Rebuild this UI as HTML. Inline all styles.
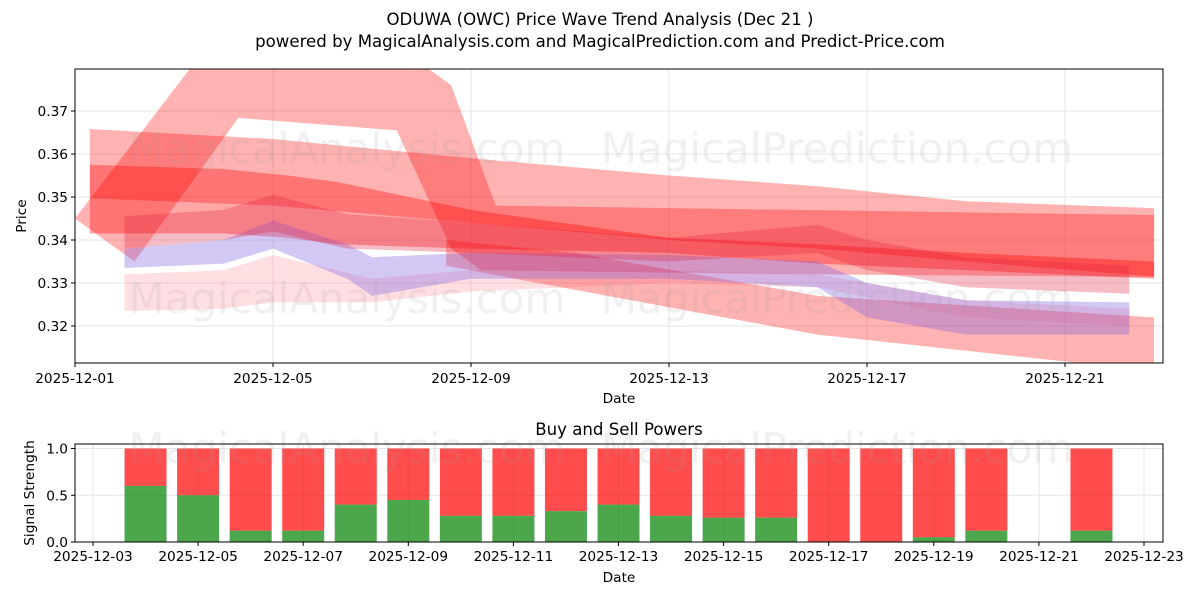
<!DOCTYPE html>
<html><head><meta charset="utf-8"><style>
body{margin:0;background:#fff;font-family:"Liberation Sans","DejaVu Sans",sans-serif;}
svg text{font-family:"DejaVu Sans","Liberation Sans",sans-serif;}
</style></head><body>
<svg id="c" width="1200" height="600" xmlns="http://www.w3.org/2000/svg">
<defs><clipPath id="cp"><rect x="75" y="69" width="1088" height="294"/></clipPath></defs>
<text x="600" y="25" font-size="16.6" text-anchor="middle">ODUWA (OWC) Price Wave Trend Analysis (Dec 21 )</text>
<text x="600" y="47" font-size="16.6" text-anchor="middle">powered by MagicalAnalysis.com and MagicalPrediction.com and Predict-Price.com</text>
<g id="topg"></g>
<g id="botg"></g>
</svg>
<script>
const NS='http://www.w3.org/2000/svg';
// price bands (day of December, upper, lower)
const bandADays=[1.0,3.4,8.0,8.6,9.5,22.8];
const bandAUpper=[0.345,0.381,0.381,0.376,0.348,0.3458];
const bandALowerDays=[1.0,2.2,4.3,7.5,8.6,9.2,16,22.8];
const bandALower=[0.345,0.335,0.3684,0.3655,0.338,0.333,0.332,0.3314];
const bandEDays=[8.5,11.1,16,22.8];
const bandEUpper=[0.340,0.337,0.327,0.322];
const bandELower=[0.334,0.3284,0.318,0.3095];
const bandBDays=[1.3,5,9,13,16,19,22.8];
const bandBUpper=[0.3658,0.3635,0.359,0.355,0.3525,0.349,0.3474];
const bandBLower=[0.3497,0.348,0.344,0.340,0.338,0.335,0.3315];
const bandCDays=[1.3,4,5.3,6.3,9,13,16,19,22.8];
const bandCUpper=[0.3575,0.3565,0.355,0.3535,0.347,0.3405,0.339,0.337,0.335];
const bandCLower=[0.3415,0.3415,0.3405,0.339,0.338,0.337,0.3345,0.333,0.331];
const bandDDays=[2,4,5,6.5,9,13,16,17,19,22.3];
const bandDUpper=[0.3455,0.347,0.3505,0.346,0.344,0.3405,0.3435,0.340,0.336,0.3340];
const bandDLower=[0.338,0.340,0.342,0.338,0.337,0.335,0.337,0.333,0.329,0.3275];
const bandPDays=[2,4,5,6.5,7,9,13,16,17,19,22.3];
const bandPUpper=[0.338,0.340,0.3445,0.339,0.336,0.337,0.3365,0.335,0.330,0.326,0.3255];
const bandPLower=[0.3335,0.3345,0.338,0.331,0.327,0.331,0.331,0.329,0.322,0.318,0.318];
const bandLDays=[2,4,5,7,9,13,16,19,22.3];
const bandLUpper=[0.332,0.333,0.3365,0.331,0.333,0.333,0.332,0.326,0.324];
const bandLLower=[0.3235,0.324,0.3255,0.3255,0.328,0.330,0.329,0.322,0.320];
// signal bars
const barDays=[4,5,6,7,8,9,10,11,12,13,14,15,16,17,18,19,20,22];
const buyPower=[0.6,0.5,0.12,0.12,0.4,0.45,0.28,0.28,0.33,0.4,0.28,0.26,0.26,0,0,0.05,0.12,0.12];
const priceTicks=[0.32,0.33,0.34,0.35,0.36,0.37];
const topDateTicks=[1,5,9,13,17,21];
const botDateTicks=[3,5,7,9,11,13,15,17,19,21,23];
const sigTicks=[0,0.5,1.0];

const X0=75,X1=1163,Y0=69,Y1=363;
const FS=13.7;
const xT=d=>75+(d-1)*49.5;
const yT=p=>240-(p-0.34)*4300;
const xB=d=>93+(d-3)*52.55;
const yB=v=>542-v*93.5;
function mk(tag,attrs,parent){const e=document.createElementNS(NS,tag);for(const k in attrs)e.setAttribute(k,attrs[k]);parent.appendChild(e);return e;}
const topG=document.getElementById('topg'),botG=document.getElementById('botg');
priceTicks.forEach(p=>{mk('line',{x1:X0,x2:X1,y1:yT(p),y2:yT(p),stroke:'#e5e5e5'},topG);
 const t=mk('text',{x:X0-7,y:yT(p)+5,'font-size':FS,'text-anchor':'end'},topG);t.textContent=p.toFixed(2);
 
 
 mk('line',{x1:X0-4,x2:X0,y1:yT(p),y2:yT(p),stroke:'#000'},topG);});
topDateTicks.forEach(d=>{mk('line',{x1:xT(d),x2:xT(d),y1:Y0,y2:Y1,stroke:'#e5e5e5'},topG);
 mk('line',{x1:xT(d),x2:xT(d),y1:Y1,y2:Y1+4,stroke:'#000'},topG);
 const t=mk('text',{x:xT(d),y:Y1+20,'font-size':FS,'text-anchor':'middle'},topG);t.textContent='2025-12-'+String(d).padStart(2,'0');
 
 });
const g=mk('g',{'clip-path':'url(#cp)'},topG);
function band(dU,up,dL,lo,fill,op,name){
 let pts=dU.map((d,i)=>xT(d)+','+yT(up[i]));
 for(let i=dL.length-1;i>=0;i--)pts.push(xT(dL[i])+','+yT(lo[i]));
 const p=mk('polygon',{points:pts.join(' '),fill:fill,'fill-opacity':op},g);
 
 }
band(bandADays,bandAUpper,bandALowerDays,bandALower,'#ff0000',0.3,'wave-band-a');
band(bandEDays,bandEUpper,bandEDays,bandELower,'#ff0000',0.3,'wave-band-e');
band(bandBDays,bandBUpper,bandBDays,bandBLower,'#ff0000',0.3,'wave-band-b');
band(bandCDays,bandCUpper,bandCDays,bandCLower,'#ff0000',0.35,'wave-band-c');
band(bandLDays,bandLUpper,bandLDays,bandLLower,'#ff6070',0.2,'wave-band-light');
band(bandPDays,bandPUpper,bandPDays,bandPLower,'#8060e0',0.35,'wave-band-purple');
band(bandDDays,bandDUpper,bandDDays,bandDLower,'#e02040',0.3,'wave-band-d');
[['MagicalAnalysis.com',347,163],['MagicalPrediction.com',837,163],['MagicalAnalysis.com',347,313],['MagicalPrediction.com',837,313]].forEach(w=>{
 const t=mk('text',{x:w[1],y:w[2],'font-size':42,'text-anchor':'middle',fill:'#999','fill-opacity':0.15},topG);t.textContent=w[0];
 
 });
mk('rect',{x:X0,y:Y0,width:X1-X0,height:Y1-Y0,fill:'none',stroke:'#000'},topG);
let t=mk('text',{x:619,y:403,'font-size':FS,'text-anchor':'middle'},topG);t.textContent='Date';


t=mk('text',{x:26,y:216,'font-size':FS,'text-anchor':'middle',transform:'rotate(-90 26 216)'},topG);t.textContent='Price';



const B0=444,B1=542;
t=mk('text',{x:619,y:435,'font-size':16.6,'text-anchor':'middle'},botG);t.textContent='Buy and Sell Powers';


sigTicks.forEach(v=>{mk('line',{x1:X0,x2:X1,y1:yB(v),y2:yB(v),stroke:'#e5e5e5'},botG);
 mk('line',{x1:X0-4,x2:X0,y1:yB(v),y2:yB(v),stroke:'#000'},botG);
 const tt=mk('text',{x:X0-7,y:yB(v)+5,'font-size':FS,'text-anchor':'end'},botG);tt.textContent=v.toFixed(1);
 
 });
botDateTicks.forEach(d=>{mk('line',{x1:xB(d),x2:xB(d),y1:B0,y2:B1,stroke:'#e5e5e5'},botG);
 mk('line',{x1:xB(d),x2:xB(d),y1:B1,y2:B1+4,stroke:'#000'},botG);
 const tt=mk('text',{x:xB(d),y:B1+19,'font-size':FS,'text-anchor':'middle'},botG);tt.textContent='2025-12-'+String(d).padStart(2,'0');
 
 });
barDays.forEach((d,i)=>{const w=42,x=xB(d)-w/2;
 const r=mk('rect',{x:x,y:yB(1),width:w,height:yB(buyPower[i])-yB(1),fill:'#ff0000','fill-opacity':0.7},botG);
 
 
 const gq=mk('rect',{x:x,y:yB(buyPower[i]),width:w,height:yB(0)-yB(buyPower[i]),fill:'#008000','fill-opacity':0.7},botG);
 
 });
[['MagicalAnalysis.com',347,463],['MagicalPrediction.com',837,463]].forEach(w=>{
 const tt=mk('text',{x:w[1],y:w[2],'font-size':42,'text-anchor':'middle',fill:'#999','fill-opacity':0.15},botG);tt.textContent=w[0];
 
 });
mk('rect',{x:X0,y:B0,width:X1-X0,height:B1-B0,fill:'none',stroke:'#000'},botG);
t=mk('text',{x:619,y:582,'font-size':FS,'text-anchor':'middle'},botG);t.textContent='Date';


t=mk('text',{x:34,y:493,'font-size':FS,'text-anchor':'middle',transform:'rotate(-90 34 493)'},botG);t.textContent='Signal Strength';


</script>
</body></html>
